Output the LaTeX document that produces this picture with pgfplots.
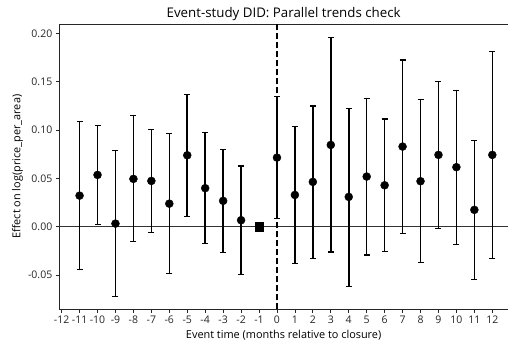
\documentclass[border=0pt]{standalone}
\usepackage{fontspec}
\setmainfont{Open Sans}
\usepackage{pgfplots}
\usepackage{pgfplotstable}
\pgfplotsset{compat=1.18}
\pgfplotstableread{
x y lo hi
-11 0.0323 -0.0440 0.1090
-10 0.0537 0.0028 0.1050
-9 0.0034 -0.0720 0.0790
-8 0.0496 -0.0148 0.1150
-7 0.0475 -0.0055 0.1010
-6 0.0240 -0.0480 0.0968
-5 0.0740 0.0110 0.1370
-4 0.0400 -0.0172 0.0974
-3 0.0269 -0.0265 0.0800
-2 0.0069 -0.0490 0.0630
0 0.0716 0.0083 0.1346
1 0.0330 -0.0380 0.1036
2 0.0465 -0.0324 0.1250
3 0.0847 -0.0260 0.1956
4 0.0310 -0.0613 0.1226
5 0.0520 -0.0290 0.1330
6 0.0430 -0.0255 0.1116
7 0.0830 -0.0065 0.1725
8 0.0472 -0.0365 0.1315
9 0.0744 -0.0014 0.1505
10 0.0617 -0.0183 0.1410
11 0.0176 -0.0544 0.0896
12 0.0744 -0.0330 0.1815
}\datatable
\begin{document}
\begin{tikzpicture}
\begin{axis}[
  at={(0,0)}, anchor=south west,
  scale only axis, width=448.7pt, height=285.3pt,
  xmin=-12.13, xmax=12.875, ymin=-0.0852, ymax=0.2097,
  axis x line*=bottom, axis y line*=left,
  axis line style={line width=0.9pt, black!85},
  xtick={-12,...,12}, ytick={-0.05,0,0.05,0.10,0.15,0.20},
  xtick pos=bottom, ytick pos=left, tick align=outside,
  major tick length=3.5pt, tick style={line width=0.8pt, black!85},
  /pgf/number format/assume math mode=true,
  ticklabel style={font=\fontsize{10.5}{12}\selectfont, black!85},
  yticklabel style={/pgf/number format/.cd, fixed, fixed zerofill, precision=2},
  xticklabel style={/pgf/number format/.cd, fixed},
  title={Event-study DID: Parallel trends check},
  every axis title shift=0pt,
  title style={font=\fontsize{13.3}{15}\selectfont, at={(rel axis cs:0.5,1)}, anchor=base, yshift=6pt},
  xlabel={Event time (months relative to closure)},
  ylabel={Effect on log(price\_per\_area)},
  every axis x label/.style={at={(rel axis cs:0.5,0)}, yshift=-26pt, anchor=center, font=\fontsize{10.9}{13}\selectfont},
  every axis y label/.style={at={(rel axis cs:-0.093,0.5)}, rotate=90, anchor=center, font=\fontsize{10.9}{13}\selectfont},
  clip=false,
]
\draw[black!85, line width=0.9pt] (rel axis cs:0,1) -- (rel axis cs:1,1);
\addplot[black!80, line width=1.2pt, forget plot] coordinates {(-12.13,0) (12.875,0)};
\addplot[black, line width=1.5pt, dash pattern=on 6pt off 3pt, forget plot] coordinates {(0,-0.0852) (0,0.2097)};
\addplot[black, only marks, mark=*, mark size=4pt, mark options={fill=black},
  error bars/.cd, y dir=both, y explicit,
  error bar style={line width=1.6pt, black},
  error mark options={rotate=90, mark size=3pt, line width=1.2pt, black}]
  table[x=x, y=y, y error plus expr=\thisrow{hi}-\thisrow{y}, y error minus expr=\thisrow{y}-\thisrow{lo}] \datatable;
\addplot[black, only marks, mark=square*, mark size=4.3pt] coordinates {(-1,0)};
\end{axis}
\pgfresetboundingbox
\useasboundingbox (-59.3pt,-35.7pt) rectangle (448.7pt,309.3pt);
\end{tikzpicture}
\end{document}
